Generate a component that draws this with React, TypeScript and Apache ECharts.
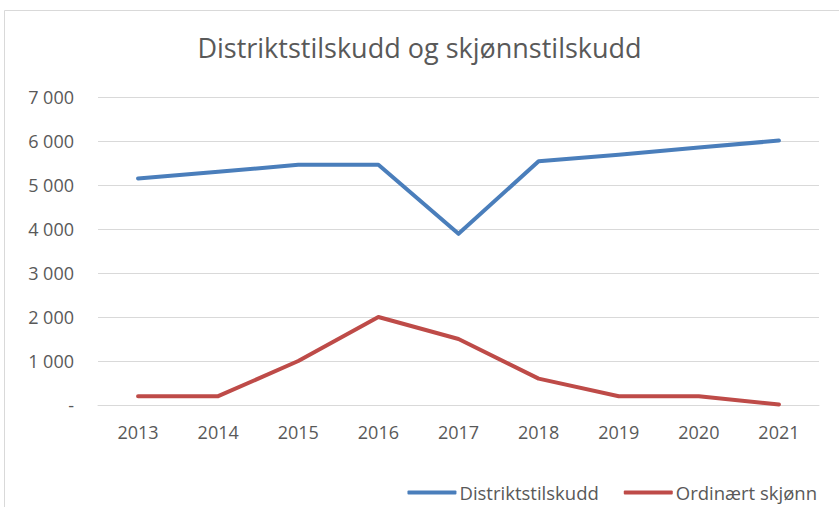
import React, { useEffect, useRef } from "react";
import * as echarts from "echarts";

const years = ["2013", "2014", "2015", "2016", "2017", "2018", "2019", "2020", "2021"];
const distrikt = [5150, 5300, 5460, 5460, 3890, 5540, 5690, 5850, 6010];
const ordinaert = [200, 200, 1000, 2000, 1500, 600, 200, 200, 10];
const seriesNames = ["Distriktstilskudd", "Ordinært skjønn"];
const title = "Distriktstilskudd og skjønnstilskudd";

const fmt = (v: number) => (v === 0 ? "-" : String(v).replace(/\B(?=(\d{3})+(?!\d))/g, " "));

export default function App() {
  const ref = useRef<HTMLDivElement>(null);
  useEffect(() => {
    document.body.style.margin = "0";
    const chart = echarts.init(ref.current!, null, { renderer: "svg" });
    const font = "Open Sans";
    chart.setOption({
      animation: false,
      backgroundColor: "#ffffff",
      textStyle: { fontFamily: font },
      title: {
        text: title,
        left: "center",
        top: 29,
        textStyle: { fontFamily: font, fontSize: 27, fontWeight: "normal", color: "#595959" },
      },
      graphic: [
        {
          type: "rect",
          shape: { x: 4.5, y: 10.5, width: 900, height: 600 },
          style: { fill: "none", stroke: "#d9d9d9", lineWidth: 1 },
          silent: true,
        },
      ],
      grid: { left: 98, right: 20, top: 97, bottom: 102, containLabel: false },
      legend: {
        right: 17,
        top: 478,
        itemWidth: 49,
        itemHeight: 4,
        itemGap: 25,
        icon: "roundRect",
        textStyle: { fontFamily: font, fontSize: 18.5, color: "#595959", padding: [0, 0, 0, -2] },
        data: seriesNames,
      },
      xAxis: {
        type: "category",
        data: years,
        boundaryGap: true,
        axisLine: { show: true, lineStyle: { color: "#d9d9d9", width: 1 } },
        axisTick: { show: false },
        axisLabel: { fontFamily: font, fontSize: 18, color: "#595959", margin: 18 },
      },
      yAxis: {
        type: "value",
        min: 0,
        max: 7000,
        interval: 1000,
        axisLine: { show: false },
        axisTick: { show: false },
        splitLine: { lineStyle: { color: "#d9d9d9", width: 1 } },
        axisLabel: { fontFamily: font, fontSize: 18, color: "#595959", margin: 24, formatter: fmt },
      },
      series: [
        {
          name: seriesNames[0],
          type: "line",
          data: distrikt,
          symbol: "none",
          itemStyle: { color: "#4A7EBB" },
          lineStyle: { color: "#4A7EBB", width: 4, cap: "round", join: "round" },
        },
        {
          name: seriesNames[1],
          type: "line",
          data: ordinaert,
          symbol: "none",
          itemStyle: { color: "#BE4B48" },
          lineStyle: { color: "#BE4B48", width: 4, cap: "round", join: "round" },
        },
      ],
    });
    return () => chart.dispose();
  }, []);
  return <div ref={ref} style={{ width: 839, height: 507 }} />;
}
